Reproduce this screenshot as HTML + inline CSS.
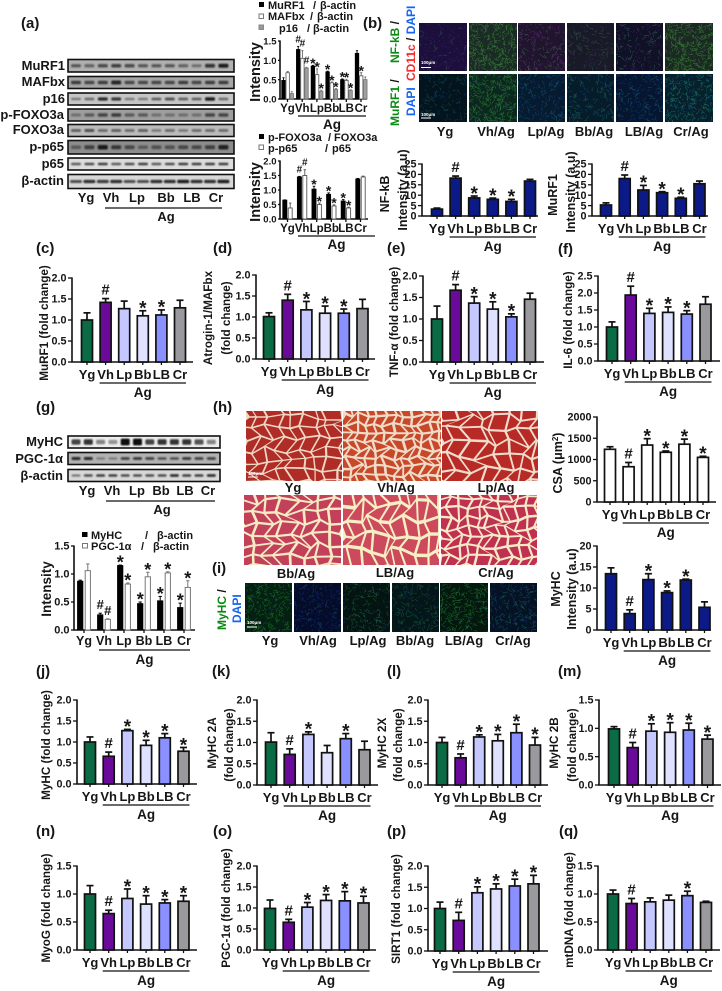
<!DOCTYPE html>
<html lang="en">
<head>
<meta charset="utf-8">
<title>Multi-panel figure</title>
<style>
html,body{margin:0;padding:0;background:#fff;}
svg#fig{display:block;font-family:"Liberation Sans",Arial,sans-serif;font-weight:bold;fill:#161616;filter:blur(0.35px);}
.pl{font-size:15px;}
.yt{font-size:11.7px;}
.big{font-size:14.5px;}
.bl{font-size:13px;text-anchor:end;}
.cap{font-size:13px;text-anchor:middle;}
.lg{font-size:11px;}
.vt{font-size:12px;}
</style>
</head>
<body>
<svg id="fig" xmlns="http://www.w3.org/2000/svg" width="722" height="991" viewBox="0 0 722 991">
<defs><filter id="bandBlur" x="-30%" y="-60%" width="160%" height="220%"><feGaussianBlur stdDeviation="0.7"/></filter></defs>
<rect width="722" height="991" fill="#fff"/>

<g id="blots"></g>
<g id="images"></g>
<g id="charts"></g>

<!-- panel letters -->
<g>
<text class="pl" x="21" y="28">(a)</text>
<text class="pl" x="363" y="28">(b)</text>
<text class="pl" x="36" y="253">(c)</text>
<text class="pl" x="213" y="253">(d)</text>
<text class="pl" x="387" y="253">(e)</text>
<text class="pl" x="558" y="254">(f)</text>
<text class="pl" x="36" y="412">(g)</text>
<text class="pl" x="213" y="412">(h)</text>
<text class="pl" x="212" y="573">(i)</text>
<text class="pl" x="36" y="676">(j)</text>
<text class="pl" x="212" y="676">(k)</text>
<text class="pl" x="387" y="676">(l)</text>
<text class="pl" x="558" y="676">(m)</text>
<text class="pl" x="36" y="836">(n)</text>
<text class="pl" x="213" y="836">(o)</text>
<text class="pl" x="387" y="836">(p)</text>
<text class="pl" x="559" y="836">(q)</text>
</g>

<!-- blot labels panel a -->
<g>
<text class="bl" x="65" y="70">MuRF1</text>
<text class="bl" x="65" y="86">MAFbx</text>
<text class="bl" x="65" y="103">p16</text>
<text class="bl" x="64" y="119">p-FOXO3a</text>
<text class="bl" x="64" y="134">FOXO3a</text>
<text class="bl" x="64" y="151">p-p65</text>
<text class="bl" x="64" y="168">p65</text>
<text class="bl" x="64" y="185">β-actin</text>
<text class="cap" x="86" y="202">Yg</text>
<text class="cap" x="111" y="202">Vh</text>
<text class="cap" x="137" y="202">Lp</text>
<text class="cap" x="166" y="202">Bb</text>
<text class="cap" x="192" y="202">LB</text>
<text class="cap" x="216" y="202">Cr</text>
<line x1="105" x2="222" y1="208" y2="208" stroke="#111" stroke-width="1.3"/>
<text class="cap" x="166" y="221">Ag</text>
</g>

<!-- blot labels panel g -->
<g>
<text class="bl" x="63" y="446">MyHC</text>
<text class="bl" x="63" y="463">PGC-1α</text>
<text class="bl" x="63" y="480">β-actin</text>
<text class="cap" x="87" y="495">Yg</text>
<text class="cap" x="112" y="495">Vh</text>
<text class="cap" x="137" y="495">Lp</text>
<text class="cap" x="161" y="495">Bb</text>
<text class="cap" x="185" y="495">LB</text>
<text class="cap" x="208" y="495">Cr</text>
<line x1="106" x2="215" y1="501" y2="501" stroke="#111" stroke-width="1.3"/>
<text class="cap" x="162" y="514">Ag</text>
</g>

<!-- legends -->
<g>
<rect x="259" y="2" width="5" height="5" fill="#000"/>
<text class="lg" x="268" y="9">MuRF1</text><text class="lg" x="313" y="9">/</text><text class="lg" x="320" y="9">β-actin</text>
<rect x="259" y="14" width="4.5" height="4.5" fill="#fff" stroke="#777"/>
<text class="lg" x="268" y="20">MAFbx</text><text class="lg" x="310" y="20">/</text><text class="lg" x="317" y="20">β-actin</text>
<rect x="259" y="25" width="4.5" height="4.5" fill="#999" stroke="#888"/>
<text class="lg" x="279" y="32">p16</text><text class="lg" x="307" y="32">/</text><text class="lg" x="313" y="32">β-actin</text>
</g>
<g>
<rect x="259" y="134" width="5" height="5" fill="#000"/>
<text class="lg" x="268" y="141">p-FOXO3a</text><text class="lg" x="328" y="141">/</text><text class="lg" x="334" y="141">FOXO3a</text>
<rect x="259" y="145" width="4.5" height="4.5" fill="#fff" stroke="#777"/>
<text class="lg" x="268" y="152">p-p65</text><text class="lg" x="325" y="152">/</text><text class="lg" x="332" y="152">p65</text>
</g>
<g>
<rect x="82" y="532" width="5.5" height="5" fill="#000"/>
<text class="lg" x="91" y="539">MyHC</text><text class="lg" x="145" y="539">/</text><text class="lg" x="157" y="539">β-actin</text>
<rect x="82.5" y="543.5" width="5" height="4.5" fill="#fff" stroke="#777"/>
<text class="lg" x="91" y="550">PGC-1α</text><text class="lg" x="141" y="550">/</text><text class="lg" x="153" y="550">β-actin</text>
</g>

<!-- y axis titles -->
<g>
<text class="big" transform="translate(260,72) rotate(-90)" text-anchor="middle">Intensity</text>
<text class="big" transform="translate(260,192) rotate(-90)" text-anchor="middle">Intensity</text>
<text class="yt" transform="translate(389,194) rotate(-90)" text-anchor="middle" style="font-size:12.5px">NF-kB</text>
<text class="yt" transform="translate(407,190) rotate(-90)" text-anchor="middle" style="font-size:12.5px">Intensity (a.u)</text>
<text class="yt" transform="translate(557,195) rotate(-90)" text-anchor="middle" style="font-size:12.5px">MuRF1</text>
<text class="yt" transform="translate(575,192) rotate(-90)" text-anchor="middle" style="font-size:12.5px">Intensity (a.u)</text>
<text class="yt" transform="translate(48,323) rotate(-90)" text-anchor="middle">MuRF1 (fold change)</text>
<text class="yt" transform="translate(212,318) rotate(-90)" text-anchor="middle">Atrogin-1/MAFbx</text>
<text class="yt" transform="translate(230,318) rotate(-90)" text-anchor="middle">(fold change)</text>
<text class="yt" transform="translate(398,322) rotate(-90)" text-anchor="middle">TNF-α (fold change)</text>
<text class="yt" transform="translate(572,320) rotate(-90)" text-anchor="middle">IL-6 (fold change)</text>
<text class="big" transform="translate(51,589) rotate(-90)" text-anchor="middle" style="font-size:13.5px">Intensity</text>
<text class="yt" transform="translate(562,463) rotate(-90)" text-anchor="middle" style="font-size:12.5px">CSA (μm<tspan dy="-4" font-size="8">2</tspan><tspan dy="4">)</tspan></text>
<text class="yt" transform="translate(560,589) rotate(-90)" text-anchor="middle" style="font-size:12.5px">MyHC</text>
<text class="yt" transform="translate(576,589) rotate(-90)" text-anchor="middle" style="font-size:12.5px">Intensity (a.u)</text>
<text class="yt" transform="translate(50,745) rotate(-90)" text-anchor="middle">MyHC (fold change)</text>
<text class="yt" transform="translate(216,743) rotate(-90)" text-anchor="middle">MyHC 2A</text>
<text class="yt" transform="translate(233,745) rotate(-90)" text-anchor="middle">(fold change)</text>
<text class="yt" transform="translate(386,743) rotate(-90)" text-anchor="middle">MyHC 2X</text>
<text class="yt" transform="translate(402,745) rotate(-90)" text-anchor="middle">(fold change)</text>
<text class="yt" transform="translate(558,743) rotate(-90)" text-anchor="middle">MyHC 2B</text>
<text class="yt" transform="translate(576,745) rotate(-90)" text-anchor="middle">(fold change)</text>
<text class="yt" transform="translate(50,908) rotate(-90)" text-anchor="middle">MyoG (fold change)</text>
<text class="yt" transform="translate(230,908) rotate(-90)" text-anchor="middle">PGC-1α (fold change)</text>
<text class="yt" transform="translate(400,909) rotate(-90)" text-anchor="middle">SIRT1 (fold change)</text>
<text class="yt" transform="translate(573,910) rotate(-90)" text-anchor="middle">mtDNA (fold change)</text>
</g>

<!-- stain labels -->
<g>
<text class="vt" transform="translate(399,63) rotate(-90)"><tspan fill="#0a8a12">NF-kB</tspan><tspan fill="#111"> /</tspan></text>
<text class="vt" transform="translate(415,81) rotate(-90)"><tspan fill="#f52a2a">CD11c</tspan><tspan fill="#111"> / </tspan><tspan fill="#1464f0">DAPI</tspan></text>
<text class="vt" transform="translate(399,126) rotate(-90)"><tspan fill="#0a8a12">MuRF1</tspan><tspan fill="#111"> /</tspan></text>
<text class="vt" transform="translate(415,116) rotate(-90)" fill="#1464f0">DAPI</text>
<text class="vt" transform="translate(226,630) rotate(-90)"><tspan fill="#0a8a12">MyHC</tspan><tspan fill="#111"> /</tspan></text>
<text class="vt" transform="translate(241,623) rotate(-90)" fill="#1464f0">DAPI</text>
</g>

<!-- image captions -->
<g>
<text class="cap" x="445" y="136">Yg</text>
<text class="cap" x="496" y="136">Vh/Ag</text>
<text class="cap" x="546" y="136">Lp/Ag</text>
<text class="cap" x="594" y="136">Bb/Ag</text>
<text class="cap" x="644" y="136">LB/Ag</text>
<text class="cap" x="691" y="136">Cr/Ag</text>
<text class="cap" x="293" y="492">Yg</text>
<text class="cap" x="396" y="492">Vh/Ag</text>
<text class="cap" x="496" y="492">Lp/Ag</text>
<text class="cap" x="296" y="578">Bb/Ag</text>
<text class="cap" x="395" y="577">LB/Ag</text>
<text class="cap" x="496" y="577">Cr/Ag</text>
<text class="cap" x="270" y="645">Yg</text>
<text class="cap" x="318" y="645">Vh/Ag</text>
<text class="cap" x="368" y="645">Lp/Ag</text>
<text class="cap" x="415" y="645">Bb/Ag</text>
<text class="cap" x="464" y="645">LB/Ag</text>
<text class="cap" x="513" y="645">Cr/Ag</text>
</g>

<g id="scalebars" style="font-size:4.5px" fill="#fff">
<text x="421" y="64" fill="#fff">100μm</text>
<line x1="421" x2="431" y1="67.5" y2="67.5" stroke="#fff"/>
<text x="421" y="116" fill="#fff">100μm</text>
<line x1="421" x2="431" y1="118" y2="118" stroke="#fff"/>
<text x="248" y="475" fill="#fff">100μm</text>
<line x1="248" x2="258" y1="477" y2="477" stroke="#fff"/>
<text x="247" y="624" fill="#fff">100μm</text>
<line x1="247" x2="257" y1="627" y2="627" stroke="#fff"/>
</g>
</svg>

<script>
// ===== shared axis data =====
const categories = ['Yg','Vh','Lp','Bb','LB','Cr'];
const ticks15 = ['0.0','0.5','1.0','1.5'];
const ticks20 = ['0.0','0.5','1.0','1.5','2.0'];
const ticks25 = ['0.0','0.5','1.0','1.5','2.0','2.5'];
const ticks25int = ['0','5','10','15','20','25'];
const ticks20int = ['0','5','10','15','20'];
const ticksCsa = ['0','500','1000','1500','2000'];

// ===== series values =====
const aMurf1 = [0.48,1.28,0.85,0.70,0.50,1.18];
const aMurf1Err = [0.07,0.08,0.02,0.02,0.02,0.07];
const aMurf1Sig = ['','#','*','*','*',''];
const aMafbx = [0.68,1.05,0.63,0.42,0.48,0.60];
const aMafbxErr = [0.03,0.20,0.15,0.02,0.03,0.08];
const aMafbxSig = ['','#','*','*','*','*'];
const aP16 = [0.14,0.80,0.20,0.25,0.22,0.50];
const aP16Err = [0.05,0.02,0.03,0.02,0.02,0.07];
const aP16Sig = ['','#','*','*','*',''];

const aFoxo = [0.65,1.45,1.03,0.85,0.62,1.38];
const aFoxoErr = [0.01,0.02,0.10,0.05,0.05,0.02];
const aFoxoSig = ['','#','*','*','*',''];
const aP65 = [0.38,1.50,0.50,0.45,0.38,1.45];
const aP65Err = [0.17,0.20,0.05,0.04,0.03,0.03];
const aP65Sig = ['','#','*','*','*',''];

const gMyhc = [0.87,0.27,1.15,0.47,0.52,0.40];
const gMyhcErr = [0.02,0.03,0.01,0.03,0.08,0.08];
const gMyhcSig = ['','#','*','*','*','*'];
const gPgc = [1.06,0.19,0.82,0.95,1.02,0.76];
const gPgcErr = [0.12,0.01,0.02,0.08,0.02,0.12];
const gPgcSig = ['','#','*','*','*','*'];

const nfkbValues = [3.3,18.2,8.7,8.0,7.0,16.8];
const nfkbErrors = [0.5,1.0,0.9,0.6,1.0,0.8];
const nfkbSig = ['','#','*','*','*',''];
const murfIntValues = [5.3,18.0,12.5,11.2,8.5,15.5];
const murfIntErrors = [1.0,1.7,2.2,0.5,0.5,1.3];
const murfIntSig = ['','#','*','*','*',''];
const csaValues = [1240,830,1340,1170,1360,1050];
const csaErrors = [60,100,150,30,120,25];
const csaSig = ['','#','*','*','*','*'];
const myhcIntValues = [13.4,3.9,12.0,8.9,11.9,5.4];
const myhcIntErrors = [1.4,0.9,1.4,0.4,0.2,1.3];
const myhcIntSig = ['','#','*','*','*',''];

const cValues = [1.00,1.42,1.27,1.10,1.12,1.29];
const cErrors = [0.17,0.09,0.18,0.12,0.12,0.18];
const cSig = ['','#','','*','*',''];
const dValues = [1.01,1.40,1.17,1.09,1.09,1.20];
const dErrors = [0.09,0.14,0.20,0.17,0.10,0.22];
const dSig = ['','#','*','*','*',''];
const eValues = [1.00,1.67,1.37,1.23,1.05,1.46];
const eErrors = [0.30,0.13,0.15,0.17,0.07,0.14];
const eSig = ['','#','*','*','*',''];
const fValues = [1.00,1.94,1.40,1.43,1.38,1.67];
const fErrors = [0.15,0.26,0.15,0.16,0.10,0.22];
const fSig = ['','#','*','*','*',''];
const jValues = [1.00,0.66,1.27,0.92,1.10,0.78];
const jErrors = [0.12,0.10,0.03,0.12,0.10,0.09];
const jSig = ['','#','*','*','*','*'];
const kValues = [1.01,0.72,1.19,0.76,1.09,0.83];
const kErrors = [0.22,0.13,0.06,0.17,0.12,0.20];
const kSig = ['','#','*','','*',''];
const lValues = [1.00,0.64,1.13,1.04,1.23,0.94];
const lErrors = [0.12,0.09,0.05,0.15,0.20,0.18];
const lSig = ['','#','*','*','*','*'];
const mValues = [0.99,0.66,0.95,0.93,0.97,0.81];
const mErrors = [0.04,0.09,0.13,0.17,0.12,0.07];
const mSig = ['','#','*','*','*','*'];
const nValues = [1.00,0.65,0.92,0.82,0.84,0.87];
const nErrors = [0.15,0.06,0.17,0.15,0.06,0.10];
const nSig = ['','#','*','*','*','*'];
const oValues = [0.99,0.66,1.02,1.18,1.17,1.12];
const oErrors = [0.20,0.07,0.11,0.14,0.22,0.16];
const oSig = ['','#','*','*','*','*'];
const pValues = [1.00,0.72,1.37,1.46,1.53,1.58];
const pErrors = [0.15,0.19,0.14,0.12,0.16,0.20];
const pSig = ['','#','*','*','*','*'];
const qValues = [1.00,0.83,0.86,0.89,0.97,0.85];
const qErrors = [0.07,0.09,0.07,0.09,0.08,0.02];
const qSig = ['','#','','','*',''];

// ===== blot band intensities, one per lane =====
const blotMurf1 = [0.5,0.4,0.6,0.7,0.6,0.5,0.5,0.5,0.4,0.3,0.8,1.0];
const blotMafbx = [0.7,0.6,0.7,0.9,0.6,0.6,0.6,0.6,0.7,0.6,0.7,0.7];
const blotP16 = [0.3,0.4,0.9,0.8,0.3,0.3,0.5,0.6,0.5,0.5,1.0,0.4];
const blotPFoxo = [0.2,0.4,0.6,0.7,0.4,0.4,0.2,0.2,0.2,0.2,0.6,0.6];
const blotFoxo = [0.5,0.6,0.4,0.5,0.4,0.5,0.3,0.4,0.3,0.4,0.4,0.4];
const blotPP65 = [0.3,0.6,1.0,0.7,0.5,0.3,0.4,0.4,0.5,0.5,0.6,0.9];
const blotP65 = [0.6,0.7,0.8,0.6,0.7,0.8,0.6,0.7,0.8,0.8,0.8,0.8];
const blotActin = [0.7,0.9,0.8,0.9,0.7,0.7,0.9,0.9,1.0,0.9,0.9,1.0];
const blotMyhc = [0.8,0.9,0.4,0.3,1.5,1.5,0.8,0.9,0.9,0.9,0.7,0.4];
const blotPgc = [0.9,0.9,0.2,0.2,0.7,0.8,0.7,0.6,0.6,0.8,0.7,0.7];
const blotActinG = [0.4,0.7,0.8,0.8,0.7,0.7,0.7,0.7,0.9,0.8,0.8,0.9];

// ===== styling =====
const groupFills = ['#0a6b45','#6a0a9a','#c4c8ff','#e0e0ff','#8a90ff','#9a9a9e'];
const navyFills = ['#0b1a86','#0b1a86','#0b1a86','#0b1a86','#0b1a86','#0b1a86'];
const whiteFills = ['#fff','#fff','#fff','#fff','#fff','#fff'];

const NS = 'http://www.w3.org/2000/svg';
const chartsRoot = document.getElementById('charts');

function make(tag, attrs, parent, text) {
  const el = document.createElementNS(NS, tag);
  for (const k in attrs) el.setAttribute(k, attrs[k]);
  if (text !== undefined) el.textContent = text;
  parent.appendChild(el);
  return el;
}

function linearY(layout, tickLabels) {
  const maxV = parseFloat(tickLabels[tickLabels.length - 1]);
  return v => layout.baseY - (v / maxV) * (layout.baseY - layout.topY);
}

function drawFrame(name, layout, tickLabels, y) {
  const g = make('g', {}, chartsRoot);
  
  
  const tl = layout.tickLen === undefined ? 4 : layout.tickLen;
  const axisY = make('line', {x1:layout.axisX, x2:layout.axisX, y1:layout.topY-0.6, y2:layout.baseY, stroke:'#111', 'stroke-width':1.6}, g);
  
  
  const axisX = make('line', {x1:layout.axisX-0.7, x2:layout.axisEnd, y1:layout.baseY, y2:layout.baseY, stroke:'#111', 'stroke-width':1.6}, g);
  
  
  tickLabels.forEach(t => {
    const py = y(parseFloat(t));
    const tick = make('line', {x1:layout.axisX-tl, x2:layout.axisX, y1:py, y2:py, stroke:'#111', 'stroke-width':1.3}, g);
    
    
    const lab = make('text', {x:layout.axisX-tl-1.5, y:py+3.7, 'text-anchor':'end', 'font-size':layout.tickSize||10.8}, g, t);
    
    
  });
  return g;
}

function drawXLabels(g, layout, xOf) {
  const lo = layout.labelOffset || 17;
  categories.forEach((c, i) => {
    const lab = make('text', {x:xOf(i), y:layout.baseY+lo, 'text-anchor':'middle', 'font-size':layout.labelSize||13}, g, c);
    
    
    const tick = make('line', {x1:xOf(i), x2:xOf(i), y1:layout.baseY, y2:layout.baseY+3, stroke:'#111', 'stroke-width':1.3}, g);
    
    
  });
  const bx0 = layout.bracket0 !== undefined ? layout.bracket0 : xOf(1) - 6;
  const bx1 = layout.bracket1 !== undefined ? layout.bracket1 : xOf(5) + 6;
  const by = layout.baseY + (layout.bracketOffset || 21);
  const br = make('line', {x1:bx0, x2:bx1, y1:by, y2:by, stroke:'#111', 'stroke-width':1.3}, g);
  
  
  const ag = make('text', {x:(bx0+bx1)/2, y:layout.baseY+(layout.agOffset||35), 'text-anchor':'middle', 'font-size':13.5}, g, 'Ag');
  
  
}

function drawSig(g, mark, cx, top, starSize, hashSize) {
  if (!mark) return;
  let t;
  if (mark === '*') {
    t = make('text', {x:cx, y:top - starSize*0.38 + starSize*0.58, 'text-anchor':'middle', 'font-size':starSize}, g, '*');
  } else {
    t = make('text', {x:cx, y:top - 4, 'text-anchor':'middle', 'font-size':hashSize}, g, '#');
  }
  
  
}

function drawBar(g, name, cx, w, v, e, y, layout, fill, stroke, sw) {
  const top = y(v), base = layout.baseY;
  const eTop = y(v + e);
  const errLine = make('line', {x1:cx, x2:cx, y1:eTop, y2:top, stroke:stroke, 'stroke-width':sw}, g);
  
  
  const cap = make('line', {x1:cx-w*0.32, x2:cx+w*0.32, y1:eTop, y2:eTop, stroke:stroke, 'stroke-width':sw}, g);
  
  
  const bar = make('rect', {x:cx-w/2, y:top, width:w, height:Math.max(0, base-top), fill:fill, stroke:stroke, 'stroke-width':sw}, g);
  
  
  return eTop;
}

function drawChart(name, layout, tickLabels, values, errors, sig, fills) {
  const y = linearY(layout, tickLabels);
  const xOf = i => layout.firstX + i * layout.stepX;
  const g = drawFrame(name, layout, tickLabels, y);
  values.forEach((v, i) => {
    const eTop = drawBar(g, 'bar-' + categories[i].toLowerCase(), xOf(i), layout.barW || 11, v, errors[i], y, layout, fills[i], '#111', 1.7);
    drawSig(g, sig[i], xOf(i), eTop, 19, 15);
  });
  drawXLabels(g, layout, xOf);
}

function drawGrouped(name, layout, tickLabels, seriesList) {
  const y = linearY(layout, tickLabels);
  const xOf = i => layout.firstX + i * layout.stepX;
  const g = drawFrame(name, layout, tickLabels, y);
  seriesList.forEach(s => {
    s.values.forEach((v, i) => {
      const cx = xOf(i) + s.offset;
      const eTop = drawBar(g, s.name + '-bar-' + categories[i].toLowerCase(), cx, layout.barW, v, s.errors[i], y, layout, s.fill, s.stroke, layout.barStroke || 0.9);
      drawSig(g, s.sig[i], cx, eTop, layout.starSize, layout.hashSize);
    });
  });
  drawXLabels(g, layout, xOf);
}

// ===== layouts =====
const layoutATop = {axisX:280, axisEnd:367, baseY:99, topY:41, firstX:287.5, stepX:14.7, barW:3.4, tickLen:2, tickSize:9.5, labelSize:11.5, labelOffset:13, bracket0:298, bracket1:366, bracketOffset:17, agOffset:30, starSize:14, hashSize:10};
const layoutABot = {axisX:280, axisEnd:368, baseY:219, topY:161, firstX:287.5, stepX:14.6, barW:4, tickLen:2, tickSize:9.5, labelSize:11.5, labelOffset:13, bracket0:298, bracket1:375, bracketOffset:17, agOffset:30, starSize:14, hashSize:10};
const layoutG = {axisX:74, axisEnd:195, baseY:630, topY:546, firstX:84, stepX:20, barW:5.2, tickLen:3, tickSize:11, labelSize:12.5, labelOffset:15, bracket0:99, bracket1:190, bracketOffset:20, agOffset:34, starSize:18, hashSize:13, barStroke:1};
const layoutNfkb = {axisX:422, axisEnd:538, baseY:216, topY:164, firstX:437, stepX:18.6};
const layoutMurfInt = {axisX:592, axisEnd:708, baseY:216, topY:164, firstX:606, stepX:18.7};
const layoutC = {axisX:72, axisEnd:193, baseY:362, topY:278, firstX:87, stepX:18.6};
const layoutD = {axisX:256, axisEnd:375, baseY:359, topY:275, firstX:269, stepX:18.7};
const layoutE = {axisX:423, axisEnd:544, baseY:362, topY:276, firstX:437, stepX:18.6};
const layoutF = {axisX:598, axisEnd:720, baseY:361, topY:276, firstX:612, stepX:18.7};
const layoutCsa = {axisX:597, axisEnd:716, baseY:502, topY:417, firstX:610, stepX:18.6};
const layoutMyhcInt = {axisX:597, axisEnd:711, baseY:630, topY:546, firstX:611, stepX:18.7};
const layoutJ = {axisX:77, axisEnd:197, baseY:784, topY:700, firstX:90, stepX:18.7};
const layoutK = {axisX:257, axisEnd:378, baseY:785, topY:700, firstX:271, stepX:18.7};
const layoutL = {axisX:428, axisEnd:548, baseY:785, topY:700, firstX:442, stepX:18.6};
const layoutM = {axisX:599, axisEnd:721, baseY:785, topY:700, firstX:614, stepX:18.7};
const layoutN = {axisX:77, axisEnd:197, baseY:950, topY:866, firstX:90, stepX:18.7};
const layoutO = {axisX:257, axisEnd:376, baseY:950, topY:866, firstX:270, stepX:18.7};
const layoutP = {axisX:428, axisEnd:548, baseY:951, topY:866, firstX:440, stepX:18.7};
const layoutQ = {axisX:598, axisEnd:720, baseY:950, topY:866, firstX:613, stepX:18.6};

drawGrouped('chart-a-murf1-mafbx-p16', layoutATop, ticks15, [
  {name:'murf1', values:aMurf1, errors:aMurf1Err, sig:aMurf1Sig, offset:-4, fill:'#000', stroke:'#000'},
  {name:'mafbx', values:aMafbx, errors:aMafbxErr, sig:aMafbxSig, offset:0.2, fill:'#fff', stroke:'#666'},
  {name:'p16', values:aP16, errors:aP16Err, sig:aP16Sig, offset:4.3, fill:'#a0a0a0', stroke:'#777'}
]);
drawGrouped('chart-a-foxo3a-p65', layoutABot, ticks20, [
  {name:'p-foxo3a', values:aFoxo, errors:aFoxoErr, sig:aFoxoSig, offset:-2.7, fill:'#000', stroke:'#000'},
  {name:'p-p65', values:aP65, errors:aP65Err, sig:aP65Sig, offset:2.7, fill:'#fff', stroke:'#555'}
]);
drawGrouped('chart-g-myhc-pgc1a', layoutG, ticks15, [
  {name:'myhc', values:gMyhc, errors:gMyhcErr, sig:gMyhcSig, offset:-3.8, fill:'#000', stroke:'#000'},
  {name:'pgc1a', values:gPgc, errors:gPgcErr, sig:gPgcSig, offset:3.8, fill:'#fff', stroke:'#777'}
]);
drawChart('chart-b-nfkb', layoutNfkb, ticks25int, nfkbValues, nfkbErrors, nfkbSig, navyFills);
drawChart('chart-b-murf1', layoutMurfInt, ticks25int, murfIntValues, murfIntErrors, murfIntSig, navyFills);
drawChart('chart-c-murf1', layoutC, ticks20, cValues, cErrors, cSig, groupFills);
drawChart('chart-d-atrogin', layoutD, ticks20, dValues, dErrors, dSig, groupFills);
drawChart('chart-e-tnf', layoutE, ticks20, eValues, eErrors, eSig, groupFills);
drawChart('chart-f-il6', layoutF, ticks25, fValues, fErrors, fSig, groupFills);
drawChart('chart-h-csa', layoutCsa, ticksCsa, csaValues, csaErrors, csaSig, whiteFills);
drawChart('chart-i-myhc', layoutMyhcInt, ticks20int, myhcIntValues, myhcIntErrors, myhcIntSig, navyFills);
drawChart('chart-j-myhc', layoutJ, ticks20, jValues, jErrors, jSig, groupFills);
drawChart('chart-k-myhc2a', layoutK, ticks20, kValues, kErrors, kSig, groupFills);
drawChart('chart-l-myhc2x', layoutL, ticks20, lValues, lErrors, lSig, groupFills);
drawChart('chart-m-myhc2b', layoutM, ticks15, mValues, mErrors, mSig, groupFills);
drawChart('chart-n-myog', layoutN, ticks15, nValues, nErrors, nSig, groupFills);
drawChart('chart-o-pgc1a', layoutO, ticks20, oValues, oErrors, oSig, groupFills);
drawChart('chart-p-sirt1', layoutP, ticks20, pValues, pErrors, pSig, groupFills);
drawChart('chart-q-mtdna', layoutQ, ticks15, qValues, qErrors, qSig, groupFills);

// ===== western blots =====
const blotsRoot = document.getElementById('blots');
function drawBlot(name, x0, y0, w, h, bg, firstLane, laneStep, bandW, bandH, intensities) {
  const g = make('g', {}, blotsRoot);
  
  
  const box = make('rect', {x:x0, y:y0, width:w, height:h, fill:bg, stroke:'#111', 'stroke-width':1.6}, g);
  
  
  intensities.forEach((v, i) => {
    const band = make('rect', {x:firstLane + i*laneStep - bandW/2, y:y0 + h/2 - bandH*(0.75+v*0.4)/2, width:bandW, height:bandH*(0.75+v*0.4), rx:1.5, fill:'#111', opacity:Math.min(1, 0.18+v*0.72), filter:'url(#bandBlur)'}, g);
    
    
  });
}
drawBlot('blot-murf1', 68, 59.5, 166, 12.5, '#b0b0b0', 76, 13.4, 10, 3.5, blotMurf1);
drawBlot('blot-mafbx', 68, 76.5, 166, 12, '#a6a6a6', 76, 13.4, 10, 3.5, blotMafbx);
drawBlot('blot-p16', 68, 93, 166, 12, '#c6c6c6', 76, 13.4, 10, 3, blotP16);
drawBlot('blot-p-foxo3a', 68, 109, 166, 12, '#9e9e9e', 76, 13.4, 10, 3.5, blotPFoxo);
drawBlot('blot-foxo3a', 68, 124.5, 166, 12, '#bcbcbc', 76, 13.4, 10, 3, blotFoxo);
drawBlot('blot-p-p65', 68, 140.5, 166, 13.5, '#8c8c8c', 76, 13.4, 10, 4, blotPP65);
drawBlot('blot-p65', 68, 158, 166, 12, '#dcdcdc', 76, 13.4, 10, 2.4, blotP65);
drawBlot('blot-beta-actin', 68, 174.5, 166, 14, '#d8d8d8', 76, 13.4, 12, 3, blotActin);
drawBlot('blot-myhc', 68, 436, 152, 12, '#ededed', 76, 12.3, 9, 5, blotMyhc);
drawBlot('blot-pgc1a', 68, 452.5, 152, 12, '#b2b2b2', 76, 12.3, 9, 2.6, blotPgc);
drawBlot('blot-beta-actin-g', 68, 469.5, 152, 12, '#d8d8d8', 76, 12.3, 9, 2.4, blotActinG);

// ===== microscopy textures (decorative, seeded) =====
const imagesRoot = document.getElementById('images');
function rng(seed) {
  let s = seed >>> 0;
  return () => { s = (s * 1664525 + 1013904223) >>> 0; return (s >>> 8) / 16777216; };
}
function drawHisto(name, x, y, w, h, cellW, cellH, bg, fill, seed, inset) {
  const r = rng(seed);
  for (let i = 0; i < 5; i++) r();
  const sv = make('svg', {x:x, y:y, width:w, height:h, viewBox:'0 0 '+w+' '+h}, imagesRoot);
  
  
  const back = make('rect', {width:w, height:h, fill:bg}, sv);
  
  
  const cols = Math.ceil(w/cellW)+2, rows = Math.ceil(h/cellH)+2;
  const pts = [];
  for (let j = 0; j < rows; j++) {
    pts.push([]);
    for (let i = 0; i < cols; i++) {
      pts[j].push([(i-0.5+(j%2)*0.45)*cellW + (r()-0.5)*cellW*0.8, (j-0.5)*cellH + (r()-0.5)*cellH*0.8]);
    }
  }
  let d = '';
  for (let j = 0; j < rows-1; j++) {
    for (let i = 0; i < cols-1; i++) {
      const q = [pts[j][i], pts[j][i+1], pts[j+1][i+1], pts[j+1][i]];
      const cx = (q[0][0]+q[1][0]+q[2][0]+q[3][0])/4, cy = (q[0][1]+q[1][1]+q[2][1]+q[3][1])/4;
      d += 'M' + q.map(p => (cx+(p[0]-cx)*inset).toFixed(1)+' '+(cy+(p[1]-cy)*inset).toFixed(1)).join('L') + 'Z';
    }
  }
  const cells = make('path', {d:d, fill:fill}, sv);
  
  
}
function drawFluor(name, x, y, w, h, bg, c1, n1, c2, n2, seed) {
  const r = rng(seed);
  for (let i = 0; i < 5; i++) r();
  const sv = make('svg', {x:x, y:y, width:w, height:h, viewBox:'0 0 '+w+' '+h}, imagesRoot);
  
  
  const back = make('rect', {width:w, height:h, fill:bg}, sv);
  
  
  const strokes = (n, len, col, op) => {
    let d = '';
    for (let i = 0; i < n; i++) {
      const px = r()*w, py = r()*h, a = r()*6.28, l = len*(0.5+r());
      d += 'M'+px.toFixed(1)+' '+py.toFixed(1)+'l'+(Math.cos(a)*l).toFixed(1)+' '+(Math.sin(a)*l).toFixed(1);
    }
    const p = make('path', {d:d, stroke:col, 'stroke-width':0.55, opacity:op, fill:'none'}, sv);
    
    
  };
  strokes(n2, 2, c2, 0.55);
  strokes(n1, 3.5, c1, 0.55);
}
const bw = [[419,48],[469,48],[518,47],[567,47],[616,47],[665,48]];
const iw = [[245,47],[294,47],[343,47],[392,47],[440,48],[490,47]];

drawFluor('fluorescence-b-nfkb-yg', bw[0][0],23,bw[0][1],48,'#1c0f3c','#2f7a4c',25,'#4a2a8c',120,11);
drawFluor('fluorescence-b-nfkb-vh', bw[1][0],23,bw[1][1],48,'#1a2a24','#46b040',260,'#6a3a80',60,12);
drawFluor('fluorescence-b-nfkb-lp', bw[2][0],23,bw[2][1],48,'#20142e','#3a8a50',60,'#80389a',160,13);
drawFluor('fluorescence-b-nfkb-bb', bw[3][0],23,bw[3][1],48,'#181a28','#367a48',70,'#5a2a7a',110,14);
drawFluor('fluorescence-b-nfkb-lb', bw[4][0],23,bw[4][1],48,'#101026','#3c8e68',70,'#5a2a8a',120,15);
drawFluor('fluorescence-b-nfkb-cr', bw[5][0],23,bw[5][1],48,'#1a2a22','#48ac40',280,'#5a3a7a',60,16);
drawFluor('fluorescence-b-murf1-yg', bw[0][0],74,bw[0][1],48,'#04141e','#1a7a5c',50,'#104a8c',100,21);
drawFluor('fluorescence-b-murf1-vh', bw[1][0],74,bw[1][1],48,'#0c281e','#3ca844',280,'#14508c',70,22);
drawFluor('fluorescence-b-murf1-lp', bw[2][0],74,bw[2][1],48,'#061a30','#1f7c78',70,'#1458a8',150,23);
drawFluor('fluorescence-b-murf1-bb', bw[3][0],74,bw[3][1],48,'#061c2a','#1f8a68',90,'#1450a0',120,24);
drawFluor('fluorescence-b-murf1-lb', bw[4][0],74,bw[4][1],48,'#061630','#1e7a70',70,'#1458b4',140,25);
drawFluor('fluorescence-b-murf1-cr', bw[5][0],74,bw[5][1],48,'#06202c','#2a9a74',160,'#1868b0',150,26);

drawHisto('histology-yg', 246, 411, 96, 70, 12, 11, '#eed8c4', '#b02c26', 31, 0.85);
drawHisto('histology-vh', 343, 411, 98, 70, 9, 8.5, '#efdcc8', '#c8482a', 32, 0.74);
drawHisto('histology-lp', 442, 411, 96, 70, 14, 13, '#efdccb', '#b82a26', 33, 0.84);
drawHisto('histology-bb', 244, 495, 97, 70, 13, 11, '#f4eac4', '#c2405a', 34, 0.8);
drawHisto('histology-lb', 343, 495, 96, 70, 11, 16, '#f6eec4', '#cc4a5c', 35, 0.8);
drawHisto('histology-cr', 441, 495, 96, 70, 10, 9.5, '#f4eac8', '#c03050', 36, 0.78);

drawFluor('fluorescence-i-yg', iw[0][0],583,iw[0][1],49,'#042012','#2a9a34',200,'#123a6a',50,41);
drawFluor('fluorescence-i-vh', iw[1][0],583,iw[1][1],49,'#040c2a','#1c6a5c',40,'#1c40a8',200,42);
drawFluor('fluorescence-i-lp', iw[2][0],583,iw[2][1],49,'#041410','#2a8c4c',110,'#1a4c90',90,43);
drawFluor('fluorescence-i-bb', iw[3][0],583,iw[3][1],49,'#041618','#1f7a54',120,'#143c80',90,44);
drawFluor('fluorescence-i-lb', iw[4][0],583,iw[4][1],49,'#04180e','#2fa044',210,'#143c80',50,45);
drawFluor('fluorescence-i-cr', iw[5][0],583,iw[5][1],49,'#041224','#1f8064',120,'#1a3c98',130,46);
document.getElementById('fig').appendChild(document.getElementById('scalebars'));
</script>
</body>
</html>
